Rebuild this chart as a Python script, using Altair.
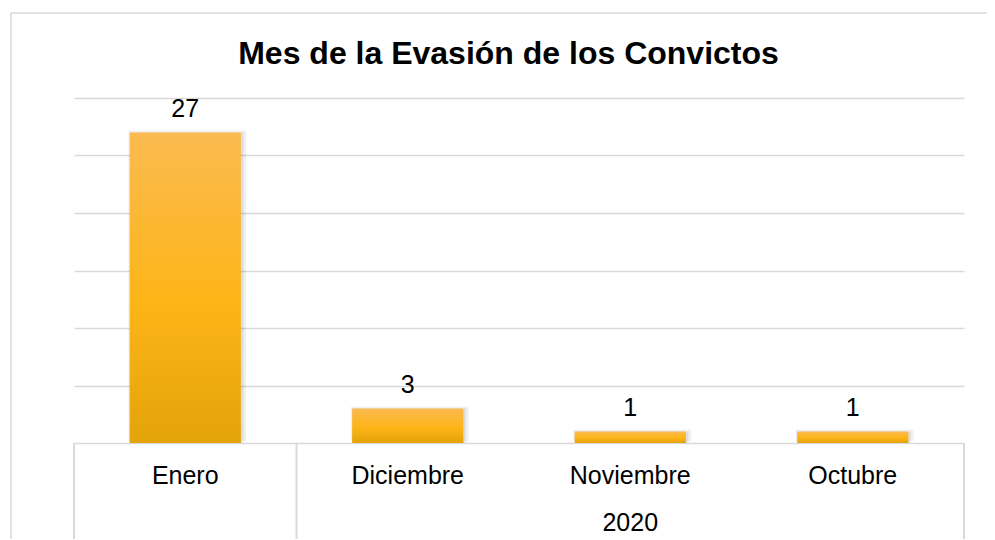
import altair as alt
import pandas as pd

# ---- data ----
meses = ["Enero", "Diciembre", "Noviembre", "Octubre"]
valores = [27, 3, 1, 1]
grupo_anio = "2020"
grupo_meses = ["Diciembre", "Noviembre", "Octubre"]
titulo = "Mes de la Evasión de los Convictos"
y_ticks = [0, 5, 10, 15, 20, 25, 30]

df = pd.DataFrame({"mes": meses, "valor": valores})

W, H = 890, 345
FONT = "Liberation Sans"
GRID = "#D9D9D9"
LBL = 25

xscale = alt.Scale(domain=meses, paddingInner=0, paddingOuter=0)
yscale = alt.Scale(domain=[0, 30], nice=False)

x_ax = alt.Axis(title=None, ticks=False, tickSize=0, labelPadding=32,
                labelBaseline="middle", labelFont=FONT, labelFontSize=LBL,
                labelColor="#000000", domain=False, labelAngle=0)
y_ax = alt.Axis(title=None, values=y_ticks, labels=False, ticks=False,
                domain=False, grid=True, gridColor=GRID, gridWidth=1.5)

x_enc = alt.X("mes:N", scale=xscale, sort=meses, axis=x_ax)
y_enc = alt.Y("valor:Q", scale=yscale, axis=y_ax)

gradient = alt.Gradient(
    gradient="linear",
    stops=[
        alt.GradientStop(color="#FBBA50", offset=0),
        alt.GradientStop(color="#FDB517", offset=0.55),
        alt.GradientStop(color="#E3A30A", offset=1),
    ],
    x1=0, x2=0, y1=0, y2=1,
)

base = alt.Chart(df)

border = alt.Chart(pd.DataFrame({"k": [0]})).mark_rect(
    fillOpacity=0, stroke=GRID, strokeWidth=1.5
).encode(x=alt.value(-63), x2=alt.value(W + 60), y=alt.value(-85), y2=alt.value(H + 150))

shadow1 = base.mark_bar(color="#000000", opacity=0.06, width=alt.RelativeBandSize(0.53),
                        xOffset=2, y2Offset=4, yOffset=-2).encode(x=x_enc, y=y_enc)
shadow2 = base.mark_bar(color="#000000", opacity=0.08, width=alt.RelativeBandSize(0.51),
                        xOffset=1.5, y2Offset=2).encode(x=x_enc, y=y_enc)

bars = base.mark_bar(color=gradient, width=alt.RelativeBandSize(0.5)).encode(x=x_enc, y=y_enc)

labels = base.mark_text(font=FONT, fontSize=LBL, color="#000000", dy=-16,
                        baseline="alphabetic").encode(x=x_enc, y=y_enc, text="valor:Q")

sep_left = alt.Chart(pd.DataFrame({"mes": ["Enero", grupo_meses[0]]})).mark_rule(
    color=GRID, strokeWidth=2
).encode(x=alt.X("mes:N", scale=xscale, sort=meses, axis=x_ax, bandPosition=0),
         y=alt.value(H), y2=alt.value(H + 150))
sep_right = alt.Chart(pd.DataFrame({"mes": [grupo_meses[-1]]})).mark_rule(
    color=GRID, strokeWidth=2
).encode(x=alt.X("mes:N", scale=xscale, sort=meses, axis=x_ax, bandPosition=1),
         y=alt.value(H), y2=alt.value(H + 150))

grupo = alt.Chart(pd.DataFrame({"mes": [grupo_meses[len(grupo_meses) // 2]], "t": [grupo_anio]})).mark_text(
    font=FONT, fontSize=LBL, color="#000000", baseline="middle"
).encode(x=x_enc, y=alt.value(H + 80), text="t:N")

title = alt.Chart(pd.DataFrame({"t": [titulo]})).mark_text(
    font=FONT, fontSize=32, fontWeight="bold", color="#000000", baseline="middle", align="center"
).encode(x=alt.value(434.5), y=alt.value(-44), text="t:N")

chart = alt.layer(border, shadow1, shadow2, bars, labels, sep_left, sep_right, grupo, title).properties(
    width=W, height=H,
    padding={"left": 66, "top": 90, "right": 23, "bottom": 96},
    autosize=alt.AutoSizeParams(type="none"),
).configure_view(strokeWidth=0)

chart.save("out.html", embed_options={"renderer": "svg", "actions": False})
